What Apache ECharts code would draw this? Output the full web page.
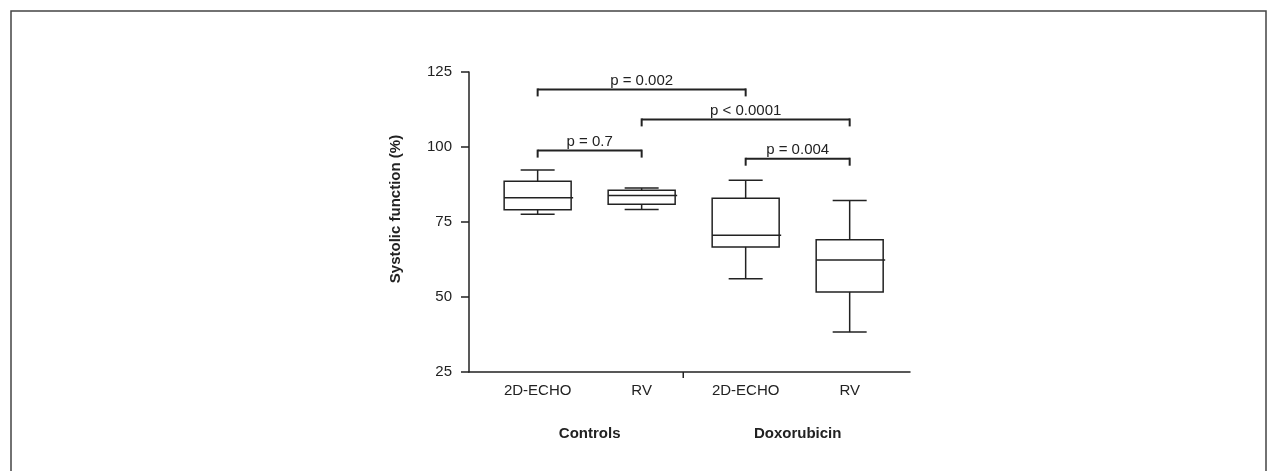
<!DOCTYPE html>
<html>
<head>
<meta charset="utf-8">
<script src="https://cdn.jsdelivr.net/npm/echarts@6/dist/echarts.min.js"></script>
<style>
  html, body { margin: 0; padding: 0; background: #fff; }
  #chart { width: 1269px; height: 471px; }
</style>
</head>
<body>
<div id="chart"></div>
<script>
// categories and groups
var categories = ['2D-ECHO', 'RV', '2D-ECHO', 'RV'];
var groups = ['Controls', 'Doxorubicin'];
// box stats per category: [min, q1, median, q3, max]
var boxMin    = [77.6, 79.2, 56.1, 38.3];
var boxQ1     = [79.1, 80.9, 66.7, 51.7];
var boxMedian = [83.1, 83.8, 70.6, 62.3];
var boxQ3     = [88.6, 85.6, 82.9, 69.1];
var boxMax    = [92.3, 86.3, 88.9, 82.2];
// significance brackets: from category, to category, level, label
var bracketFrom  = [1, 2, 1, 3];
var bracketTo    = [3, 4, 2, 4];
var bracketLevel = [119.2, 109.2, 98.8, 96.1];
var bracketText  = ['p = 0.002', 'p < 0.0001', 'p = 0.7', 'p = 0.004'];
// y ticks
var yMin = 25, yMax = 125, yStep = 25;

var FONT = '"Liberation Sans", Arial, sans-serif';
var INK = '#222';

var boxData = categories.map(function(c, i) {
  return [i + 1, boxMin[i], boxQ1[i], boxMedian[i], boxQ3[i], boxMax[i]];
});
var bracketData = bracketText.map(function(t, i) {
  return [bracketFrom[i], bracketTo[i], bracketLevel[i]];
});
var labelData = categories.map(function(c, i) { return [i + 1]; });
var groupData = groups.map(function(g, i) { return [i * 2 + 1.5]; });

var chart = echarts.init(document.getElementById('chart'));

function line(x1, y1, x2, y2, w) {
  return { type: 'line', shape: { x1: x1, y1: y1, x2: x2, y2: y2 },
    style: { stroke: INK, lineWidth: w || 1.5 } };
}

chart.setOption({
  animation: false,
  backgroundColor: '#fff',
  graphic: [
    { type: 'rect', x: 11, y: 11, shape: { x: 0, y: 0, width: 1255, height: 520 },
      style: { fill: 'none', stroke: '#444', lineWidth: 1.5 }, silent: true },
    { type: 'text', x: 396, y: 209, rotation: Math.PI / 2,
      style: { text: 'Systolic function (%)', font: 'bold 15px ' + FONT, fill: INK,
        align: 'center', verticalAlign: 'middle' } }
  ],
  grid: { left: 469, right: 359, top: 72, bottom: 99 },
  xAxis: {
    type: 'value', min: 0.34, max: 4.58,
    axisLine: { lineStyle: { color: INK, width: 1.5 } },
    axisTick: { show: false }, axisLabel: { show: false }, splitLine: { show: false }
  },
  yAxis: {
    type: 'value', min: yMin, max: yMax, interval: yStep,
    axisLine: { show: true, lineStyle: { color: INK, width: 1.5 } },
    axisTick: { show: true, length: 8, lineStyle: { color: INK, width: 1.5 } },
    axisLabel: { color: INK, fontSize: 15, fontFamily: FONT, margin: 17 },
    splitLine: { show: false }
  },
  series: [
    {
      type: 'custom', clip: false, data: boxData,
      renderItem: function(params, api) {
        var x = api.value(0);
        var cx = api.coord([x, yMin])[0];
        var half = 33.5, cap = 17;
        var yMinP = api.coord([x, api.value(1)])[1];
        var yQ1 = api.coord([x, api.value(2)])[1];
        var yMed = api.coord([x, api.value(3)])[1];
        var yQ3 = api.coord([x, api.value(4)])[1];
        var yMaxP = api.coord([x, api.value(5)])[1];
        return { type: 'group', children: [
          { type: 'rect', shape: { x: cx - half, y: yQ3, width: half * 2, height: yQ1 - yQ3 },
            style: { fill: '#fff', stroke: INK, lineWidth: 1.5 } },
          line(cx - half, yMed, cx + half + 2, yMed),
          line(cx, yQ3, cx, yMaxP), line(cx - cap, yMaxP, cx + cap, yMaxP),
          line(cx, yQ1, cx, yMinP), line(cx - cap, yMinP, cx + cap, yMinP)
        ] };
      }
    },
    {
      type: 'custom', clip: false, data: bracketData,
      renderItem: function(params, api) {
        var p1 = api.coord([api.value(0), api.value(2)]);
        var p2 = api.coord([api.value(1), api.value(2)]);
        var drop = 7;
        return { type: 'group', children: [
          line(p1[0], p1[1], p2[0], p2[1], 2),
          line(p1[0], p1[1] - 1, p1[0], p1[1] + drop, 2),
          line(p2[0], p2[1] - 1, p2[0], p2[1] + drop, 2),
          { type: 'text', x: (p1[0] + p2[0]) / 2, y: p1[1] - 1,
            style: { text: bracketText[params.dataIndex], font: '15px ' + FONT, fill: INK,
              align: 'center', verticalAlign: 'bottom' } }
        ] };
      }
    },
    {
      type: 'custom', clip: false, data: labelData,
      renderItem: function(params, api) {
        var p = api.coord([api.value(0), yMin]);
        return { type: 'text', x: p[0], y: p[1] + 19,
          style: { text: categories[params.dataIndex], font: '15px ' + FONT, fill: INK,
            align: 'center', verticalAlign: 'middle' } };
      }
    },
    {
      type: 'custom', clip: false, data: groupData,
      renderItem: function(params, api) {
        var p = api.coord([api.value(0), yMin]);
        return { type: 'text', x: p[0], y: p[1] + 62,
          style: { text: groups[params.dataIndex], font: 'bold 15px ' + FONT, fill: INK,
            align: 'center', verticalAlign: 'middle' } };
      }
    },
    {
      // divider tick between the two groups
      type: 'custom', clip: false, data: [[2.4]],
      renderItem: function(params, api) {
        var p = api.coord([api.value(0), yMin]);
        return line(p[0], p[1], p[0], p[1] + 6, 1.5);
      }
    }
  ]
});
</script>
</body>
</html>
